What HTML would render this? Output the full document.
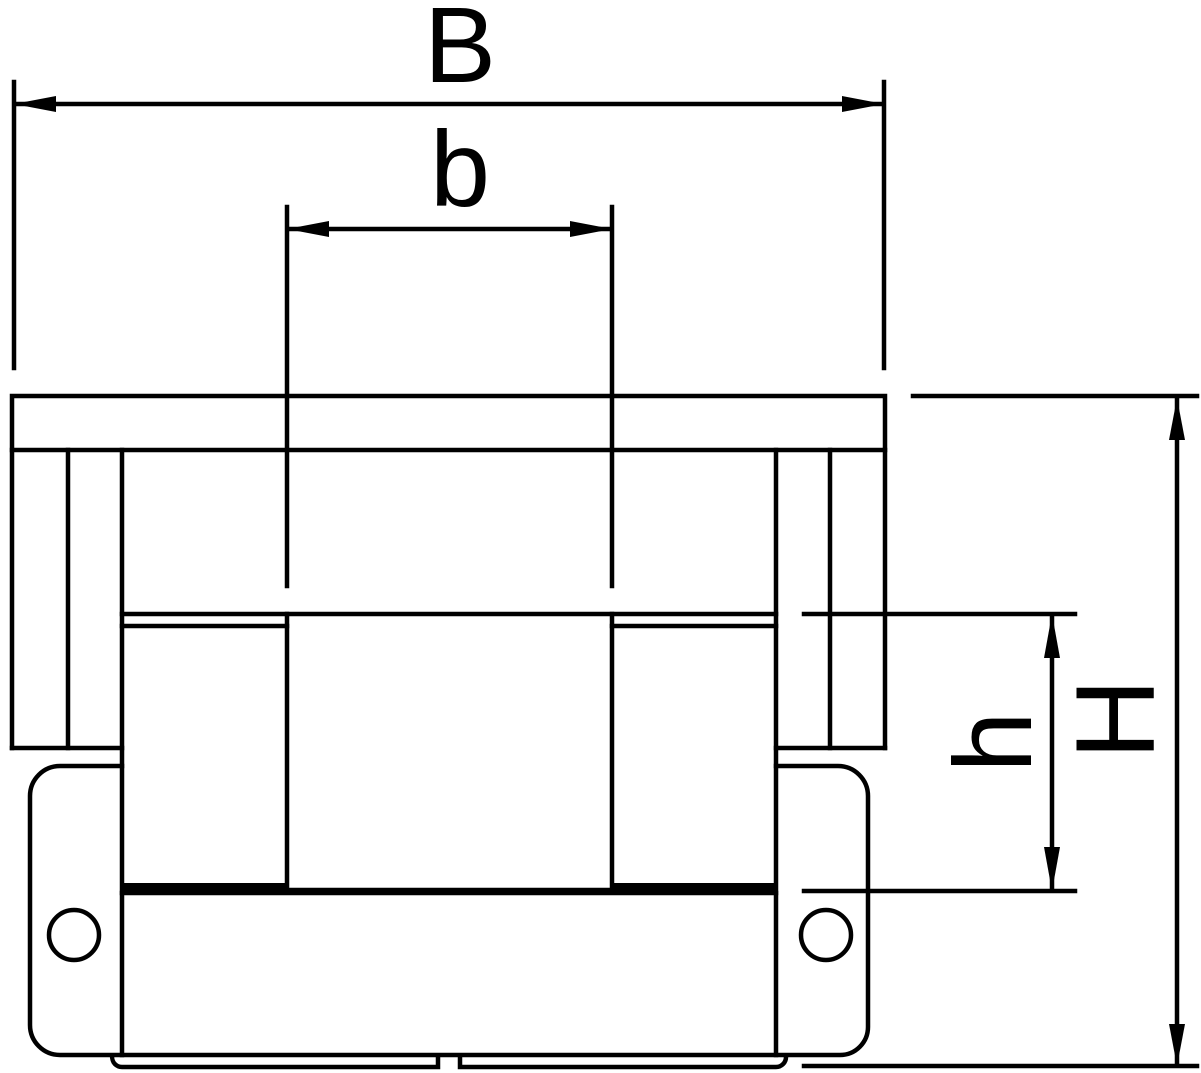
<!DOCTYPE html>
<html><head><meta charset="utf-8"><style>html,body{margin:0;padding:0;background:#fff}svg{display:block}</style></head>
<body>
<svg width="1201" height="1073" viewBox="0 0 1201 1073" xmlns="http://www.w3.org/2000/svg">
<g stroke="#000" stroke-width="4.5" fill="none" stroke-linecap="square">
<line x1="14" y1="82" x2="14" y2="368"/>
<line x1="884" y1="82" x2="884" y2="368"/>
<line x1="16" y1="104" x2="882" y2="104"/>
<line x1="287" y1="207" x2="287" y2="586"/>
<line x1="612" y1="207" x2="612" y2="586"/>
<line x1="289" y1="229" x2="610" y2="229"/>
<rect x="12" y="396" width="873" height="54"/>
<line x1="12" y1="450" x2="12" y2="748"/>
<line x1="885" y1="450" x2="885" y2="748"/>
<line x1="68" y1="450" x2="68" y2="748"/>
<line x1="830" y1="450" x2="830" y2="748"/>
<line x1="12" y1="748" x2="122" y2="748"/>
<line x1="776" y1="748" x2="885" y2="748"/>
<line x1="122" y1="450" x2="122" y2="1055"/>
<line x1="776" y1="450" x2="776" y2="1055"/>
<line x1="122" y1="614" x2="776" y2="614"/>
<line x1="122" y1="626" x2="287" y2="626"/>
<line x1="612" y1="626" x2="776" y2="626"/>
<line x1="287" y1="614" x2="287" y2="890"/>
<line x1="612" y1="614" x2="612" y2="890"/>
<line x1="287" y1="890" x2="612" y2="890"/>
<line x1="122" y1="893" x2="776" y2="893"/>
<path d="M122 766 H60 A30 30 0 0 0 30 796 V1025 A30 30 0 0 0 60 1055 H840 A28 28 0 0 0 868 1027 V796 A30 30 0 0 0 838 766 H776"/>
<circle cx="74" cy="935" r="25"/>
<circle cx="826" cy="935" r="25"/>
<path d="M112 1057 A10 10 0 0 0 122 1067 H438 V1058"/>
<path d="M460 1058 V1067 H776 A10 10 0 0 0 786 1057"/>
<line x1="804" y1="614" x2="1075" y2="614"/>
<line x1="804" y1="891" x2="1075" y2="891"/>
<line x1="1052" y1="616" x2="1052" y2="889"/>
<line x1="913" y1="396" x2="1197" y2="396"/>
<line x1="804" y1="1066" x2="1197" y2="1066"/>
<line x1="1177" y1="398" x2="1177" y2="1064"/>
</g>
<rect x="122" y="883" width="165" height="12" fill="#000"/>
<rect x="612" y="883" width="164" height="12" fill="#000"/>
<g fill="#000">
<polygon points="14,104 56,96 56,112"/>
<polygon points="884,104 842,96 842,112"/>
<polygon points="287,229 329,221 329,237"/>
<polygon points="612,229 570,221 570,237"/>
<polygon points="1052,614 1044,658 1060,658"/>
<polygon points="1052,891 1044,847 1060,847"/>
<polygon points="1177,398 1169,440 1185,440"/>
<polygon points="1177,1066 1169,1024 1185,1024"/>
</g>
<g font-family="Liberation Sans, sans-serif" fill="#000">
<text x="460" y="82" font-size="108" text-anchor="middle">B</text>
<text x="460" y="206" font-size="108" text-anchor="middle">b</text>
<text transform="translate(1031,742) rotate(-90)" font-size="110" text-anchor="middle">h</text>
<text transform="translate(1154,719) rotate(-90)" font-size="112" text-anchor="middle">H</text>
</g>
</svg>
</body></html>
